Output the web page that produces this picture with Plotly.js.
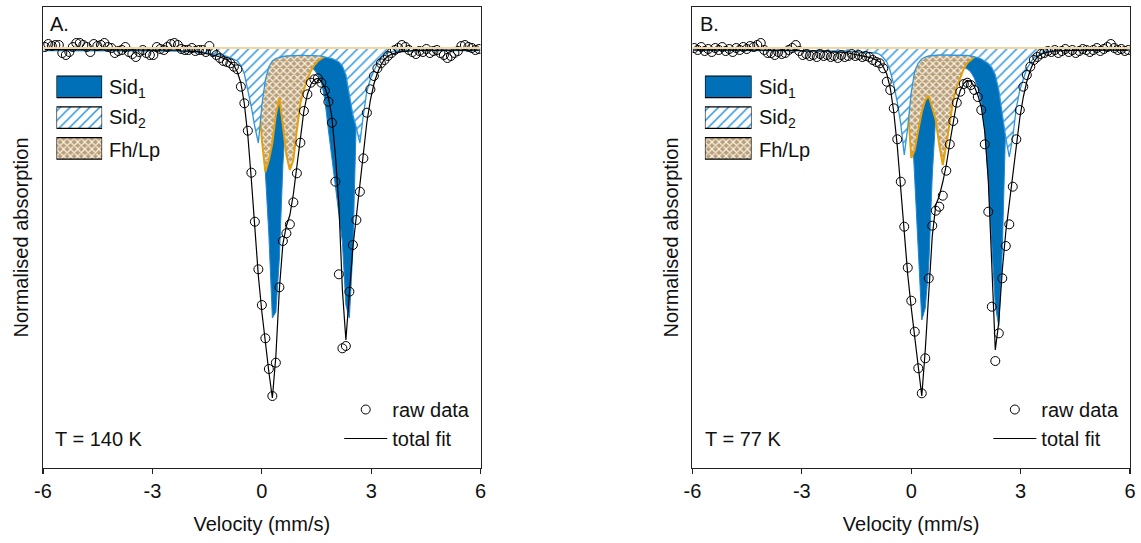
<!DOCTYPE html>
<html><head><meta charset="utf-8">
<script src="https://cdn.plot.ly/plotly-3.0.1.min.js"></script>
<style>html,body{margin:0;padding:0;background:#fff;}#chart{width:1141px;height:543px;}</style>
</head><body><div id="chart"></div>
<script>
// Velocity channels (mm/s)
const velocity = [
-5.950,-5.854,-5.758,-5.662,-5.566,-5.470,-5.374,-5.278,-5.182,-5.086,
-4.990,-4.894,-4.798,-4.702,-4.606,-4.510,-4.414,-4.318,-4.222,-4.126,
-4.030,-3.934,-3.838,-3.742,-3.646,-3.550,-3.454,-3.358,-3.262,-3.166,
-3.070,-2.974,-2.878,-2.782,-2.686,-2.590,-2.494,-2.398,-2.302,-2.206,
-2.110,-2.014,-1.918,-1.822,-1.726,-1.630,-1.534,-1.438,-1.342,-1.246,
-1.150,-1.054,-0.958,-0.862,-0.766,-0.670,-0.574,-0.478,-0.382,-0.286,
-0.190,-0.094,0.002,0.098,0.194,0.290,0.386,0.482,0.578,0.674,
0.770,0.866,0.962,1.058,1.154,1.250,1.346,1.442,1.538,1.634,
1.730,1.826,1.922,2.018,2.114,2.210,2.306,2.402,2.498,2.594,
2.690,2.786,2.882,2.978,3.074,3.170,3.266,3.362,3.458,3.554,
3.650,3.746,3.842,3.938,4.034,4.130,4.226,4.322,4.418,4.514,
4.610,4.706,4.802,4.898,4.994,5.090,5.186,5.282,5.378,5.474,
5.570,5.666,5.762,5.858,5.954];

// ---- Panel A (T = 140 K): normalised absorption ----
const rawA = [
-0.001,-0.004,-0.002,-0.003,-0.003,0.005,0.007,0.004,-0.001,-0.005,
-0.005,-0.003,-0.001,0.004,-0.004,-0.002,-0.003,-0.005,-0.001,0.000,
0.005,0.003,0.002,-0.001,0.004,0.006,0.009,0.004,0.002,0.005,
0.007,0.007,-0.001,0.001,0.002,-0.001,-0.004,-0.005,-0.003,0.001,
0.002,0.002,0.000,0.003,0.002,0.002,0.004,-0.002,0.004,0.007,
0.010,0.013,0.014,0.0153,0.0187,0.0213,0.0387,0.0553,0.0827,0.1247,
0.1737,0.2213,0.257,0.2903,0.321,0.348,0.3147,0.2393,0.193,0.1853,
0.1763,0.1543,0.1253,0.0947,0.063,0.0463,0.0347,0.0313,0.0303,0.0347,
0.0427,0.0537,0.0747,0.1337,0.2263,0.3003,0.298,0.2437,0.197,0.172,
0.1437,0.1103,0.0647,0.0413,0.028,0.0203,0.0153,0.012,0.008,0.005,
0.002,0.000,-0.003,-0.001,0.002,0.004,0.006,0.003,0.004,0.001,
0.005,0.003,0.002,0.005,0.007,0.010,0.008,0.005,0.003,-0.002,
-0.003,-0.001,0.000,0.002,0.001];
const fitA = [
0.0016,0.0016,0.0016,0.0016,0.0016,0.0016,0.0016,0.0016,0.0016,0.0016,
0.0016,0.0016,0.0016,0.0016,0.0016,0.0016,0.0016,0.0016,0.0016,0.0016,
0.0016,0.0018,0.0018,0.0018,0.0018,0.0018,0.0018,0.0018,0.0018,0.0018,
0.0018,0.0022,0.0022,0.0022,0.0022,0.0022,0.0022,0.0022,0.0022,0.0028,
0.0028,0.0028,0.0028,0.0033,0.0038,0.0045,0.0052,0.006,0.007,0.008,
0.009,0.0103,0.0116,0.0145,0.0174,0.024,0.035,0.056,0.088,0.132,
0.181,0.228,0.264,0.295,0.324,0.350,0.308,0.241,0.196,0.178,
0.167,0.146,0.118,0.091,0.063,0.0465,0.0365,0.0315,0.0304,0.0335,
0.0395,0.0495,0.069,0.107,0.157,0.242,0.292,0.245,0.199,0.168,
0.136,0.104,0.074,0.052,0.036,0.025,0.017,0.0115,0.0083,0.0063,
0.005,0.0042,0.0036,0.0032,0.0029,0.0027,0.0025,0.0024,0.0023,0.0022,
0.0021,0.0021,0.0021,0.0021,0.0021,0.0021,0.0021,0.0021,0.0021,0.0021,
0.0021,0.0021,0.0021,0.0021,0.0021];
const sid1A = [
0.0015,0.0015,0.0015,0.0015,0.0015,0.0015,0.0015,0.0015,0.0015,0.0015,
0.0015,0.0015,0.0015,0.0015,0.0015,0.0015,0.0015,0.0015,0.0015,0.0015,
0.0015,0.0015,0.0015,0.0015,0.0015,0.0015,0.0015,0.0015,0.0015,0.0015,
0.0015,0.0015,0.0015,0.0015,0.0015,0.0015,0.0015,0.0015,0.0015,0.0015,
0.0015,0.0015,0.0015,0.0015,0.0015,0.0015,0.0016,0.0017,0.0018,0.0019,
0.002,0.0022,0.0024,0.0027,0.003,0.0033,0.0038,0.0045,0.0055,0.0075,
0.012,0.025,0.062,0.127,0.187,0.270,0.264,0.210,0.117,0.062,
0.040,0.029,0.023,0.020,0.0185,0.018,0.019,0.022,0.027,0.034,
0.052,0.082,0.112,0.140,0.166,0.194,0.257,0.270,0.202,0.067,
0.032,0.016,0.009,0.006,0.0045,0.0035,0.003,0.0025,0.0022,0.002,
0.0018,0.0017,0.0016,0.0015,0.0015,0.0015,0.0015,0.0015,0.0015,0.0015,
0.0015,0.0015,0.0015,0.0015,0.0015,0.0015,0.0015,0.0015,0.0015,0.0015,
0.0015,0.0015,0.0015,0.0015,0.0015];
const sid2A = [
0.0025,0.0025,0.0025,0.0025,0.0025,0.0025,0.0025,0.0025,0.0025,0.0025,
0.0025,0.0025,0.0025,0.0025,0.0025,0.0025,0.0025,0.0025,0.0025,0.0025,
0.0025,0.0027,0.0027,0.0027,0.0027,0.0027,0.0027,0.0027,0.0027,0.0027,
0.0027,0.0030,0.0030,0.0030,0.0030,0.0030,0.0030,0.0030,0.0030,0.0035,
0.0035,0.0035,0.0035,0.0038,0.0041,0.0044,0.0048,0.0053,0.0058,0.0063,
0.0068,0.0075,0.0083,0.0095,0.0113,0.013,0.0175,0.026,0.042,0.059,
0.079,0.095,0.057,0.032,0.019,0.013,0.0105,0.0093,0.0085,0.008,
0.0077,0.0075,0.0073,0.0073,0.0073,0.0073,0.0073,0.0075,0.0078,0.0082,
0.0088,0.0096,0.0106,0.012,0.014,0.018,0.027,0.047,0.067,0.080,
0.095,0.067,0.043,0.031,0.022,0.015,0.010,0.0065,0.0048,0.0038,
0.0032,0.0029,0.0027,0.0025,0.0025,0.0025,0.0025,0.0025,0.0025,0.0025,
0.0025,0.0025,0.0025,0.0025,0.0025,0.0025,0.0025,0.0025,0.0025,0.0025,
0.0025,0.0025,0.0025,0.0025,0.0025];
const fhA = [
0.0008,0.0008,0.0008,0.0008,0.0008,0.0008,0.0008,0.0008,0.0008,0.0008,
0.0008,0.0008,0.0008,0.0008,0.0008,0.0008,0.0008,0.0008,0.0008,0.0008,
0.0008,0.0008,0.0008,0.0008,0.0008,0.0008,0.0008,0.0008,0.0008,0.0008,
0.0008,0.0008,0.0008,0.0008,0.0008,0.0008,0.0008,0.0008,0.0008,0.0008,
0.0008,0.0008,0.0008,0.0008,0.0008,0.0008,0.0009,0.001,0.0011,0.0012,
0.0014,0.0016,0.0019,0.0023,0.0028,0.0035,0.0045,0.006,0.0085,0.013,
0.020,0.045,0.092,0.124,0.112,0.095,0.067,0.050,0.077,0.107,
0.122,0.112,0.082,0.055,0.042,0.031,0.023,0.017,0.013,0.0105,
0.0085,0.007,0.0058,0.005,0.0043,0.0038,0.0033,0.003,0.0027,0.0025,
0.0023,0.0021,0.002,0.0018,0.0017,0.0016,0.0015,0.0014,0.0013,0.0012,
0.0011,0.001,0.001,0.0009,0.0008,0.0008,0.0008,0.0008,0.0008,0.0008,
0.0008,0.0008,0.0008,0.0008,0.0008,0.0008,0.0008,0.0008,0.0008,0.0008,
0.0008,0.0008,0.0008,0.0008,0.0008];

// ---- Panel B (T = 77 K) ----
const rawB = [
0.000,0.002,-0.001,0.003,0.001,0.004,0.000,0.002,-0.001,0.003,
0.001,0.004,0.000,0.002,-0.001,0.001,-0.002,-0.001,-0.003,-0.005,
0.002,0.005,0.005,0.007,0.004,0.006,0.005,0.002,0.000,-0.003,
0.003,0.007,0.006,0.008,0.007,0.009,0.006,0.008,0.007,0.009,
0.008,0.010,0.007,0.009,0.008,0.006,0.008,0.007,0.009,0.008,
0.009,0.012,0.014,0.0153,0.0203,0.0337,0.042,0.0603,0.0913,0.1337,
0.1787,0.2197,0.2527,0.2837,0.3203,0.3453,0.3103,0.2303,0.1777,0.1627,
0.1587,0.1477,0.1227,0.0963,0.073,0.0547,0.0437,0.036,0.0347,0.037,
0.042,0.049,0.062,0.0963,0.1637,0.2587,0.313,0.2853,0.2303,0.198,
0.1763,0.1387,0.0913,0.062,0.0387,0.027,0.0187,0.012,0.009,0.006,
0.005,0.003,0.004,0.002,0.005,0.003,0.001,0.004,0.002,0.005,
0.003,0.001,0.002,0.004,0.002,0.000,0.003,0.001,-0.001,-0.004,
0.000,0.002,0.001,0.003,0.002];
const fitB = [
0.0018,0.0018,0.0018,0.0018,0.0018,0.0018,0.0018,0.0018,0.0018,0.0018,
0.0018,0.0018,0.0018,0.0018,0.0018,0.0018,0.0018,0.0018,0.0018,0.0018,
0.0018,0.0023,0.0023,0.0023,0.0023,0.0023,0.0023,0.0023,0.0023,0.0023,
0.0023,0.003,0.003,0.003,0.003,0.003,0.003,0.003,0.003,0.0038,
0.0038,0.0038,0.0038,0.0044,0.005,0.0056,0.0062,0.0069,0.0076,0.0084,
0.0093,0.0104,0.0118,0.014,0.019,0.026,0.040,0.064,0.098,0.142,
0.188,0.227,0.260,0.289,0.319,0.348,0.302,0.242,0.188,0.157,
0.148,0.134,0.117,0.095,0.074,0.054,0.0425,0.0355,0.0325,0.0335,
0.0385,0.047,0.059,0.084,0.132,0.214,0.302,0.274,0.222,0.184,
0.154,0.124,0.098,0.070,0.049,0.0335,0.022,0.014,0.009,0.0065,
0.005,0.004,0.0035,0.003,0.0028,0.0026,0.0025,0.0024,0.0023,0.0022,
0.0021,0.0021,0.0021,0.0021,0.0021,0.0021,0.0021,0.0021,0.0021,0.0021,
0.0021,0.0021,0.0021,0.0021,0.0021];
const sid1B = [
0.0015,0.0015,0.0015,0.0015,0.0015,0.0015,0.0015,0.0015,0.0015,0.0015,
0.0015,0.0015,0.0015,0.0015,0.0015,0.0015,0.0015,0.0015,0.0015,0.0015,
0.0015,0.0015,0.0015,0.0015,0.0015,0.0015,0.0015,0.0015,0.0015,0.0015,
0.0015,0.0015,0.0015,0.0015,0.0015,0.0015,0.0015,0.0015,0.0015,0.0015,
0.0015,0.0015,0.0015,0.0015,0.0015,0.0015,0.0016,0.0017,0.0018,0.0019,
0.002,0.0022,0.0024,0.0027,0.003,0.0033,0.0038,0.0045,0.0055,0.008,
0.012,0.022,0.062,0.130,0.202,0.272,0.260,0.217,0.127,0.067,
0.042,0.032,0.026,0.022,0.020,0.019,0.019,0.0195,0.021,0.024,
0.030,0.040,0.055,0.082,0.132,0.201,0.258,0.278,0.202,0.072,
0.032,0.016,0.009,0.006,0.0045,0.0035,0.003,0.0025,0.0022,0.002,
0.0018,0.0017,0.0016,0.0015,0.0015,0.0015,0.0015,0.0015,0.0015,0.0015,
0.0015,0.0015,0.0015,0.0015,0.0015,0.0015,0.0015,0.0015,0.0015,0.0015,
0.0015,0.0015,0.0015,0.0015,0.0015];
const sid2B = [
0.0023,0.0023,0.0023,0.0023,0.0023,0.0023,0.0023,0.0023,0.0023,0.0023,
0.0023,0.0023,0.0023,0.0023,0.0023,0.0023,0.0023,0.0023,0.0023,0.0023,
0.0023,0.0025,0.0025,0.0025,0.0025,0.0025,0.0025,0.0025,0.0025,0.0025,
0.0025,0.0027,0.0027,0.0027,0.0027,0.0027,0.0027,0.0027,0.0027,0.0029,
0.0029,0.0029,0.0029,0.003,0.0032,0.0034,0.0036,0.0038,0.004,0.0042,
0.0045,0.0048,0.005,0.0065,0.0095,0.014,0.023,0.037,0.054,0.076,
0.107,0.079,0.044,0.023,0.015,0.011,0.009,0.008,0.0075,0.0072,
0.007,0.007,0.007,0.007,0.007,0.007,0.007,0.0072,0.0075,0.008,
0.0087,0.0096,0.011,0.013,0.0155,0.0195,0.027,0.042,0.067,0.090,
0.109,0.089,0.060,0.042,0.031,0.021,0.015,0.010,0.0075,0.0055,
0.0043,0.0035,0.003,0.0027,0.0023,0.0023,0.0023,0.0023,0.0023,0.0023,
0.0023,0.0023,0.0023,0.0023,0.0023,0.0023,0.0023,0.0023,0.0023,0.0023,
0.0023,0.0023,0.0023,0.0023,0.0023];
const fhB = [
0.0008,0.0008,0.0008,0.0008,0.0008,0.0008,0.0008,0.0008,0.0008,0.0008,
0.0008,0.0008,0.0008,0.0008,0.0008,0.0008,0.0008,0.0008,0.0008,0.0008,
0.0008,0.0008,0.0008,0.0008,0.0008,0.0008,0.0008,0.0008,0.0008,0.0008,
0.0008,0.0008,0.0008,0.0008,0.0008,0.0008,0.0008,0.0008,0.0008,0.0008,
0.0008,0.0008,0.0008,0.0008,0.0008,0.0008,0.0009,0.001,0.0011,0.0012,
0.0014,0.0016,0.0019,0.0023,0.0028,0.0035,0.0045,0.006,0.0085,0.012,
0.022,0.057,0.110,0.102,0.082,0.064,0.052,0.048,0.060,0.072,
0.097,0.117,0.097,0.073,0.052,0.039,0.029,0.021,0.015,0.0115,
0.009,0.0075,0.0065,0.0055,0.0045,0.004,0.0035,0.003,0.0027,0.0025,
0.0023,0.0021,0.002,0.0018,0.0017,0.0016,0.0015,0.0014,0.0013,0.0012,
0.0011,0.001,0.001,0.0009,0.0008,0.0008,0.0008,0.0008,0.0008,0.0008,
0.0008,0.0008,0.0008,0.0008,0.0008,0.0008,0.0008,0.0008,0.0008,0.0008,
0.0008,0.0008,0.0008,0.0008,0.0008];

const xTickVals = [-6, -3, 0, 3, 6];
const xTickText = ['-6', '-3', '0', '3', '6'];
const componentNames = ['Sid<sub>1</sub>', 'Sid<sub>2</sub>', 'Fh/Lp'];
const panelLabels = ['A.', 'B.'];
const temperatures = ['T = 140 K', 'T = 77 K'];
const seriesNames = ['raw data', 'total fit'];

const FONT = 'Liberation Sans, Arial, Helvetica, sans-serif';
const C = {sid1:'#0071b8', sid1Line:'#1f84d6', sid2:'#2f95dc', fh:'#e6a00e', fhBg:'#bb9f74', base:'#f3d6a0'};
const PAT = {
  sid2: {shape: '/', fgcolor: C.sid2, bgcolor: '#ffffff', size: 7, solidity: 0.22},
  fh: {shape: 'x', fgcolor: '#f7f3ec', bgcolor: C.fhBg, size: 5, solidity: 0.42}
};

function panelTraces(xa, ya, leg, raw, fit, s1, s2, fh) {
  const common = {x: velocity, xaxis: xa, yaxis: ya, type: 'scatter', hoverinfo: 'skip'};
  return [
    Object.assign({}, common, {y: s1, mode: 'lines', fill: 'tozeroy', fillcolor: C.sid1,
      line: {color: C.sid1Line, width: 1}, showlegend: false}),
    Object.assign({}, common, {y: fh, mode: 'lines', fill: 'tozeroy', fillcolor: C.fhBg,
      fillpattern: PAT.fh, line: {color: C.fh, width: 2}, showlegend: false}),
    Object.assign({}, common, {y: s2, mode: 'lines', fill: 'tozeroy', fillcolor: '#ffffff',
      fillpattern: PAT.sid2, line: {color: C.sid2, width: 1.3}, showlegend: false}),
    Object.assign({}, common, {y: raw, mode: 'markers', name: seriesNames[0], legend: leg, legendrank: 1,
      marker: {symbol: 'circle-open', size: 9, color: '#000', line: {width: 1, color: '#000'}}}),
    Object.assign({}, common, {y: fit, mode: 'lines', name: seriesNames[1], legend: leg, legendrank: 2,
      line: {color: '#000', width: 1.2}})
  ];
}

// legend swatches: one bar per component, drawn in a small hidden axis
function swatchTraces(xa, ya) {
  const styles = [
    {color: C.sid1},
    {color: '#ffffff', pattern: Object.assign({fillmode: 'replace'}, PAT.sid2)},
    {color: C.fhBg, pattern: Object.assign({fillmode: 'replace'}, PAT.fh)}
  ];
  return componentNames.map((n, i) => ({
    type: 'bar', orientation: 'h', xaxis: xa, yaxis: ya, x: [1], y: [i], width: 0.7,
    marker: Object.assign({line: {color: '#000', width: 1.2}}, styles[i]),
    showlegend: false, hoverinfo: 'skip'
  }));
}

const data = [].concat(
  panelTraces('x', 'y', 'legend', rawA, fitA, sid1A, sid2A, fhA),
  panelTraces('x2', 'y2', 'legend2', rawB, fitB, sid1B, sid2B, fhB),
  swatchTraces('x3', 'y3'), swatchTraces('x4', 'y4')
);

function xAxis(domain, anchor) {
  return {domain, anchor, range: [-6, 6], tickmode: 'array', tickvals: xTickVals, ticktext: xTickText,
    ticks: 'outside', ticklen: 5, tickwidth: 1.2, tickcolor: '#222', showline: true, mirror: true,
    linecolor: '#222', linewidth: 1.2, showgrid: false, zeroline: false,
    tickfont: {size: 20, color: '#111'},
    title: {text: 'Velocity (mm/s)', font: {size: 20, color: '#111'}, standoff: 15}};
}
function yAxis(anchor) {
  return {domain: [0, 1], anchor, range: [0.42, -0.041], showticklabels: false, ticks: '',
    showline: true, mirror: true, linecolor: '#222', linewidth: 1.2, showgrid: false, zeroline: false,
    title: {text: 'Normalised absorption', font: {size: 20, color: '#111'}, standoff: 7}};
}
function hidden(domain, anchor, range) {
  return {domain, anchor, range, visible: false, fixedrange: true, showgrid: false, zeroline: false};
}

const PW = 1088, L = 42.5, PH = 461, T = 7;
const px = v => (v - L) / PW;
const py = v => (T + PH - v) / PH;

const annotations = [];
[[50, 108, 55], [700, 758.3, 705]].forEach((pos, p) => {
  annotations.push({xref: 'paper', yref: 'paper', x: px(pos[0] - 2), y: py(24.5), xanchor: 'left', yanchor: 'middle',
    text: panelLabels[p], showarrow: false, font: {size: 20, color: '#111'}});
  annotations.push({xref: 'paper', yref: 'paper', x: px(pos[2] - 2), y: py(439), xanchor: 'left', yanchor: 'middle',
    text: temperatures[p], showarrow: false, font: {size: 20, color: '#111'}});
  componentNames.forEach((n, i) => {
    annotations.push({xref: 'paper', yref: 'paper', x: px(pos[1] - 1), y: py(88 + 30.9 * i), xanchor: 'left', yanchor: 'middle',
      text: n, showarrow: false, font: {size: 20, color: '#111'}});
  });
});

const legendBase = {xanchor: 'left', yanchor: 'top', bgcolor: 'rgba(0,0,0,0)', font: {size: 20, color: '#111'},
  tracegroupgap: 0, itemwidth: 43, y: py(390)};

const layout = {
  width: 1141, height: 543, margin: {l: L, r: 1141 - L - PW, t: T, b: 543 - T - PH},
  paper_bgcolor: '#fff', plot_bgcolor: '#fff', font: {family: FONT, size: 20, color: '#111'},
  xaxis: xAxis([0, px(480.5)], 'y'), yaxis: yAxis('x'),
  xaxis2: xAxis([px(692.5), 1], 'y2'), yaxis2: yAxis('x2'),
  xaxis3: hidden([px(56), px(101.7)], 'y3', [0, 1]), yaxis3: hidden([py(163.85), py(71.35)], 'x3', [2.5, -0.5]),
  xaxis4: hidden([px(705), px(751.7)], 'y4', [0, 1]), yaxis4: hidden([py(163.85), py(71.35)], 'x4', [2.5, -0.5]),
  legend: Object.assign({}, legendBase, {x: px(339)}),
  legend2: Object.assign({}, legendBase, {x: px(988.7)}),
  barmode: 'overlay',
  annotations,
  shapes: [
    {type: 'line', xref: 'x domain', yref: 'y', x0: 0, x1: 1, y0: 0, y1: 0, line: {color: C.base, width: 2}, layer: 'above'},
    {type: 'line', xref: 'x2 domain', yref: 'y2', x0: 0, x1: 1, y0: 0, y1: 0, line: {color: C.base, width: 2}, layer: 'above'}
  ]
};

Plotly.newPlot('chart', data, layout, {staticPlot: true, displayModeBar: false});
</script>
</body></html>
